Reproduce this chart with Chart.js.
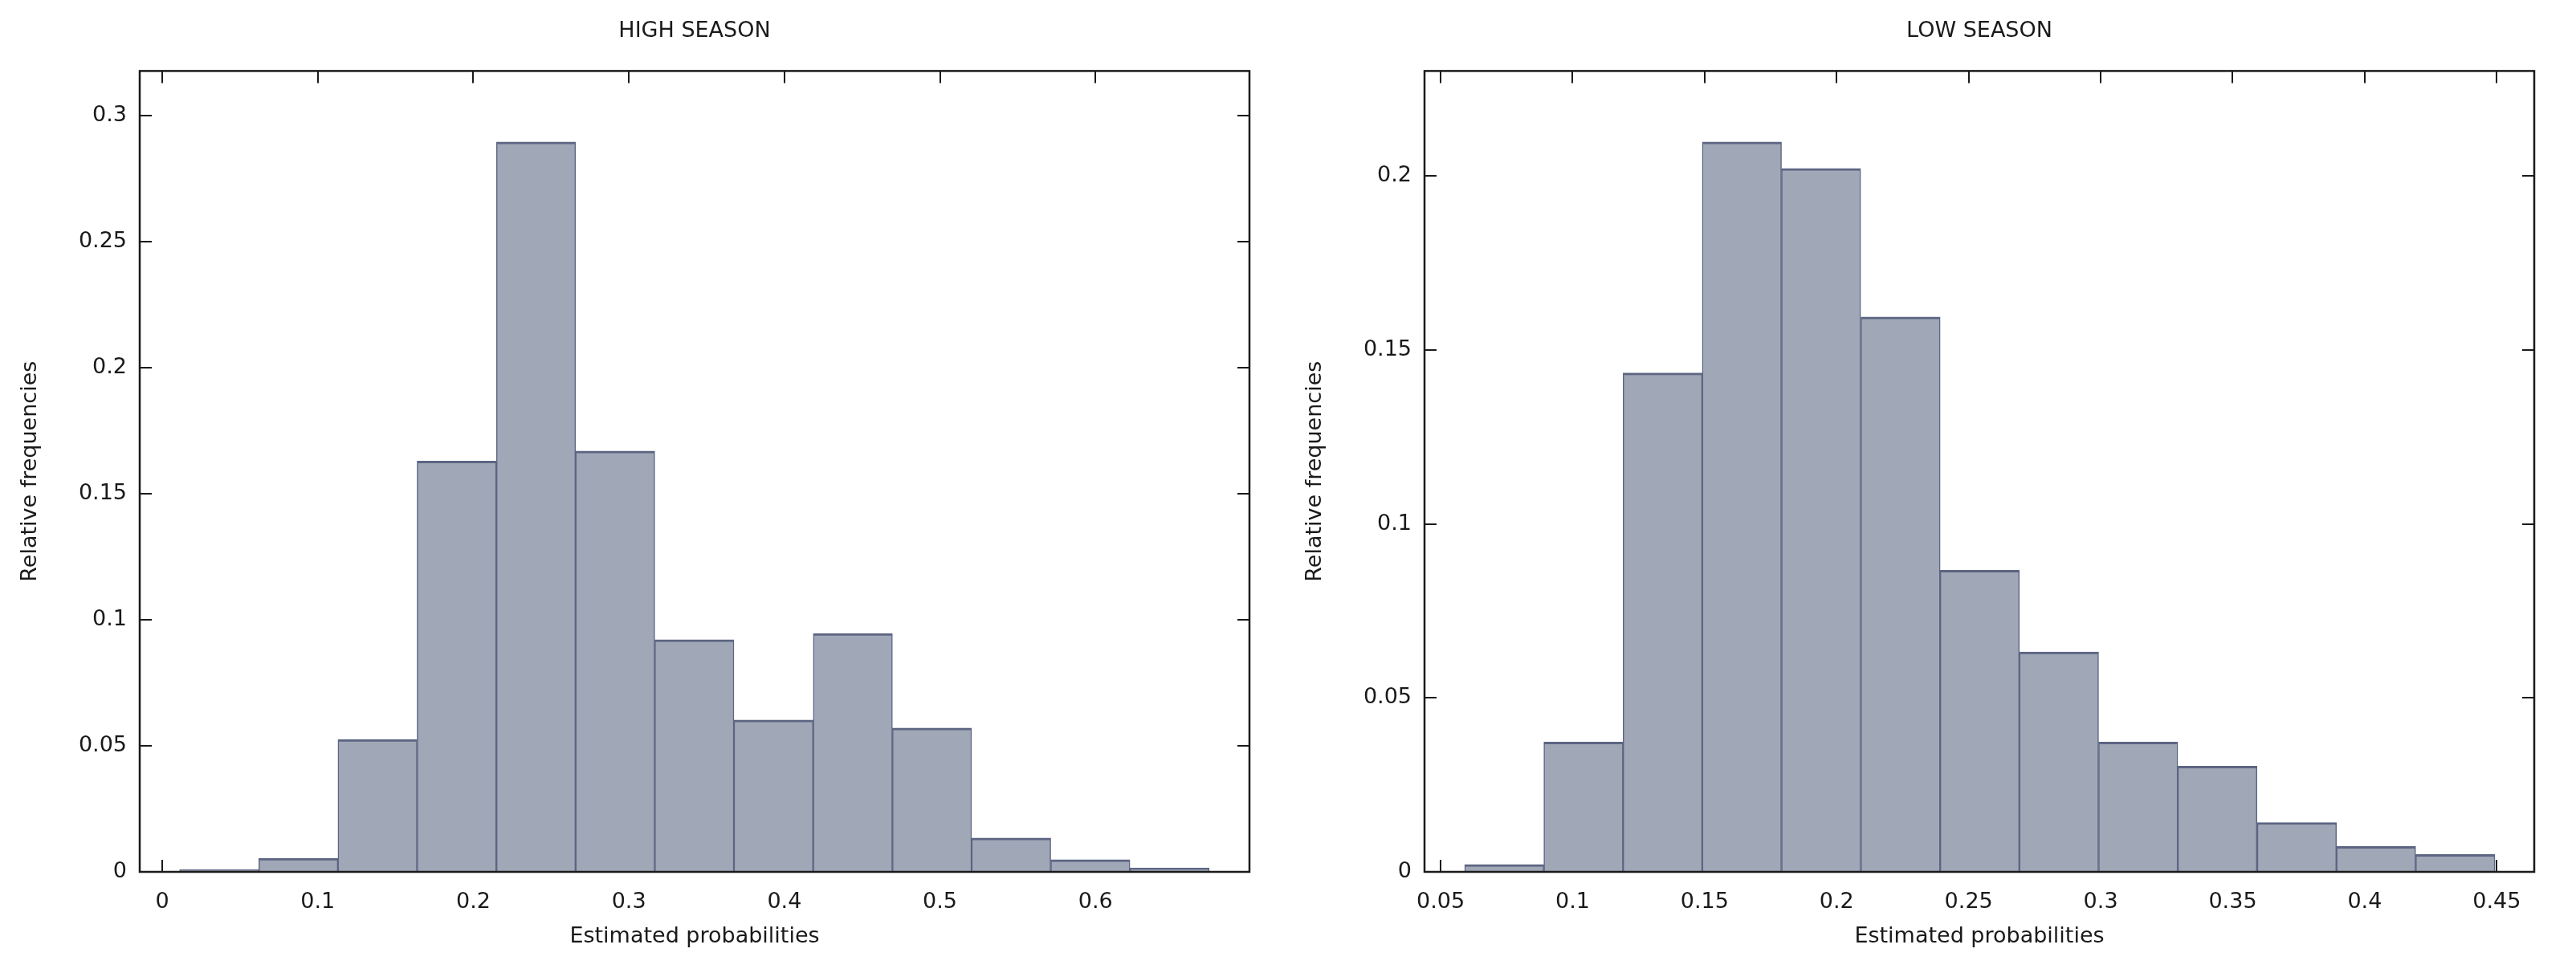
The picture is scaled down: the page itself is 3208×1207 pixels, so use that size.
<!DOCTYPE html>
<html>
<head>
<meta charset="utf-8">
<script src="https://cdn.jsdelivr.net/npm/chart.js@4.4.1/dist/chart.umd.min.js"></script>
<style>
    html, body { margin: 0; padding: 0; background: #ffffff; }
    #wrap { position: relative; width: 3208px; height: 1207px; }
    canvas { position: absolute; top: 0; }
    #high { left: 0; }
    #low { left: 1604px; }
</style>
</head>
<body>
<div id="wrap">
    <canvas id="high" width="1604" height="1207"></canvas>
    <canvas id="low" width="1604" height="1207"></canvas>
</div>
<script>
// HIGH SEASON: bin centres and relative frequencies
const highBins = [0.0366, 0.0875, 0.1384, 0.1893, 0.2403, 0.2912, 0.3421, 0.3930, 0.4440, 0.4949, 0.5458, 0.5967, 0.6477];
const highFreq = [0.0009, 0.0054, 0.0525, 0.163, 0.2896, 0.167, 0.0921, 0.0603, 0.0946, 0.0571, 0.0134, 0.0048, 0.0016];
const highXTicks = [0, 0.1, 0.2, 0.3, 0.4, 0.5, 0.6];
const highYTicks = [0, 0.05, 0.1, 0.15, 0.2, 0.25, 0.3];

// LOW SEASON
const lowBins = [0.0741, 0.1041, 0.1341, 0.1641, 0.1941, 0.2242, 0.2542, 0.2842, 0.3142, 0.3442, 0.3743, 0.4043, 0.4343];
const lowFreq = [0.0021, 0.0373, 0.1434, 0.2098, 0.2022, 0.1595, 0.0867, 0.0632, 0.0373, 0.0304, 0.0142, 0.0073, 0.005];
const lowXTicks = [0.05, 0.1, 0.15, 0.2, 0.25, 0.3, 0.35, 0.4, 0.45];
const lowYTicks = [0, 0.05, 0.1, 0.15, 0.2];

const TEXT = "#1a1a1a";
const FONT = "'DejaVu Sans', Verdana, sans-serif";

Chart.defaults.font.family = FONT;
Chart.defaults.font.size = 27;
Chart.defaults.color = TEXT;

// gnuplot-like box: inward ticks on all four sides, ticks under the bars
const framePlugin = {
    id: "frame",
    beforeDatasetsDraw: (chart) => {
        const { ctx, chartArea: a, scales } = chart;
        const len = 15;
        ctx.save();
        ctx.strokeStyle = TEXT;
        ctx.lineWidth = 2;
        ctx.beginPath();
        scales.x.ticks.forEach((t) => {
            let px = Math.round(scales.x.getPixelForValue(t.value));
            ctx.moveTo(px, a.top);
            ctx.lineTo(px, a.top + len);
            ctx.moveTo(px, a.bottom);
            ctx.lineTo(px, a.bottom - len);
        });
        scales.y.ticks.forEach((t) => {
            let py = Math.round(scales.y.getPixelForValue(t.value));
            ctx.moveTo(a.left, py);
            ctx.lineTo(a.left + len, py);
            ctx.moveTo(a.right, py);
            ctx.lineTo(a.right - len, py);
        });
        ctx.stroke();
        ctx.restore();
    },
    afterDatasetsDraw: (chart) => {
        const { ctx, chartArea: a } = chart;
        ctx.save();
        ctx.strokeStyle = TEXT;
        ctx.lineWidth = 2.5;
        ctx.strokeRect(a.left, a.top, a.right - a.left, a.bottom - a.top);
        ctx.restore();
    },
};

const renderHistogram = (id, o) => {
    let ctx = document.getElementById(id).getContext("2d");

    let data = {
        datasets: [
            {
                label: o.title,
                data: o.bins.map((b, i) => ({ x: b, y: o.freq[i] })),
                backgroundColor: "#a0a7b6",
                borderColor: "#5c6582",
                borderWidth: { top: 3, left: 1.5, right: 1.5, bottom: 0 },
                borderSkipped: false,
                barPercentage: 1,
                categoryPercentage: 1,
            },
        ],
    };

    let options = {
        responsive: false,
        animation: false,
        layout: { padding: { left: 0, right: o.padRight, top: 0, bottom: 0 } },
        plugins: {
            legend: { display: false },
            tooltip: { enabled: false },
            title: {
                display: true,
                text: o.title,
                fullSize: false,
                color: TEXT,
                font: { size: 27, weight: "normal" },
                padding: { top: 23, bottom: 33 },
            },
        },
        scales: {
            x: {
                type: "linear",
                offset: false,
                min: o.xMin,
                max: o.xMax,
                grid: { display: false, drawTicks: false },
                border: { display: false },
                afterBuildTicks: (s) => {
                    s.ticks = o.xTicks.map((v) => ({ value: v }));
                },
                afterFit: (s) => {
                    s.height = 121;
                },
                ticks: {
                    padding: 22,
                    maxRotation: 0,
                    autoSkip: false,
                    callback: (v) => String(v),
                },
                title: {
                    display: true,
                    text: "Estimated probabilities",
                    font: { size: 27 },
                    padding: { top: 0, bottom: 24 },
                },
            },
            y: {
                type: "linear",
                min: 0,
                max: o.yMax,
                grid: { display: false, drawTicks: false },
                border: { display: false },
                afterBuildTicks: (s) => {
                    s.ticks = o.yTicks.map((v) => ({ value: v }));
                },
                afterFit: (s) => {
                    s.width = o.areaLeft;
                },
                ticks: {
                    padding: 16,
                    autoSkip: false,
                    callback: (v) => String(v),
                },
                title: {
                    display: true,
                    text: "Relative frequencies",
                    font: { size: 27 },
                    padding: { top: o.yTitlePad, bottom: 0 },
                },
            },
        },
    };

    return new Chart(ctx, {
        type: "bar",
        data: data,
        options: options,
        plugins: [framePlugin],
    });
};

renderHistogram("high", {
    title: "HIGH SEASON",
    bins: highBins,
    freq: highFreq,
    xTicks: highXTicks,
    yTicks: highYTicks,
    xMin: -0.0145,
    xMax: 0.699,
    yMax: 0.3178,
    areaLeft: 174,
    padRight: 48,
    yTitlePad: 22,
});

renderHistogram("low", {
    title: "LOW SEASON",
    bins: lowBins,
    freq: lowFreq,
    xTicks: lowXTicks,
    yTicks: lowYTicks,
    xMin: 0.0439,
    xMax: 0.4642,
    yMax: 0.2302,
    areaLeft: 170,
    padRight: 52,
    yTitlePad: 18,
});
</script>
</body>
</html>
